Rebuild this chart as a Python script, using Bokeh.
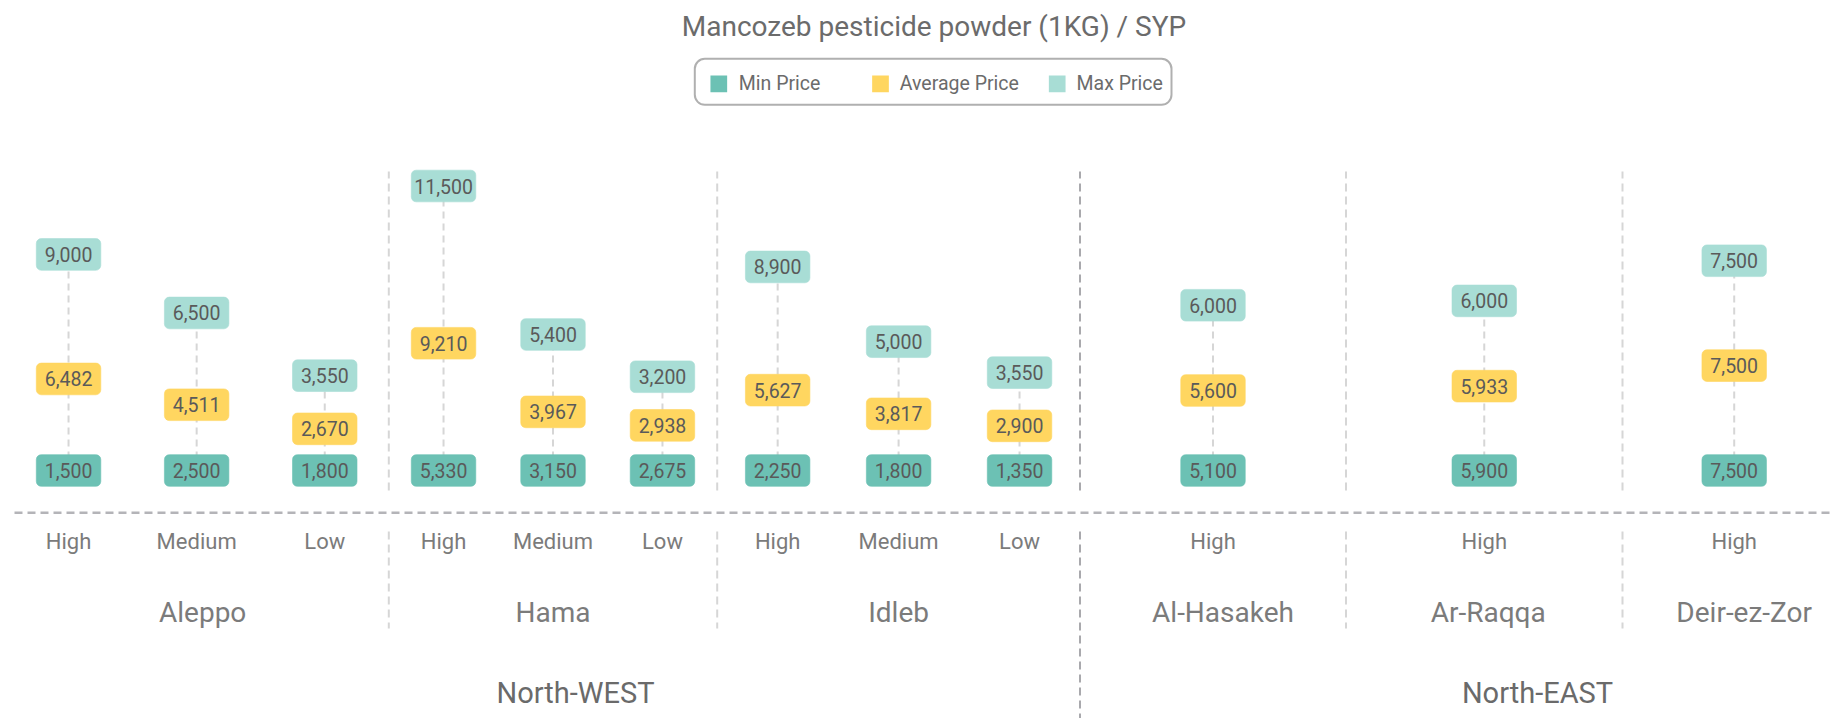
import numpy as np
from bokeh.plotting import figure
from bokeh.models import Range1d, ColumnDataSource
from bokeh.embed import file_html
from bokeh.resources import INLINE
from bokeh.core.properties import value

# ---------------- data ----------------
title_text = "Mancozeb pesticide powder (1KG) / SYP"
series_names = ["Min Price", "Average Price", "Max Price"]
regions = ["North-WEST", "North-EAST"]
cities = ["Aleppo", "Hama", "Idleb", "Al-Hasakeh", "Ar-Raqqa", "Deir-ez-Zor"]
city_region = ["North-WEST", "North-WEST", "North-WEST", "North-EAST", "North-EAST", "North-EAST"]
levels = ["High", "Medium", "Low", "High", "Medium", "Low", "High", "Medium", "Low", "High", "High", "High"]
level_city = ["Aleppo"] * 3 + ["Hama"] * 3 + ["Idleb"] * 3 + ["Al-Hasakeh", "Ar-Raqqa", "Deir-ez-Zor"]
min_price = [1500, 2500, 1800, 5330, 3150, 2675, 2250, 1800, 1350, 5100, 5900, 7500]
avg_price = [6482, 4511, 2670, 9210, 3967, 2938, 5627, 3817, 2900, 5600, 5933, 7500]
max_price = [9000, 6500, 3550, 11500, 5400, 3200, 8900, 5000, 3550, 6000, 6000, 7500]

# ---------------- layout / style ----------------
W, H = 1832, 718
FONT = value("Roboto")
C_MIN, C_AVG, C_MAX = "#6cc1b4", "#ffd660", "#a8ddd5"
series_colors = [C_MIN, C_AVG, C_MAX]
city_widths = [384.3, 328.4, 362.8, 266.0, 276.5, 223.4]
city_label_dx = [6, 0, 0, 10, 4, 10]
X0 = 4.0
PX_PER_UNIT = 0.01309      # vertical pixels per SYP
BASE_Y = 248.0             # screen y (from bottom) of the baseline row
GAP = 6.7 / PX_PER_UNIT    # spacing between stacked label rows (in SYP)
region_label_x = {"North-WEST": 575.0, "North-EAST": 1537.0}

bounds = np.concatenate([[X0], X0 + np.cumsum(city_widths)])
col_x = []
for i, c in enumerate(cities):
    n = level_city.count(c)
    slot = city_widths[i] / n
    for j in range(n):
        col_x.append(bounds[i] + (j + 0.5) * slot)
col_x = np.array(col_x)

mn = np.array(min_price, dtype=float)
av = np.array(avg_price, dtype=float)
mx = np.array(max_price, dtype=float)
y_min = np.zeros_like(mn)
y_avg = av + GAP
y_max = av + mx + 2 * GAP

def fmt(v):
    return f"{int(v):,}"

p = figure(width=W, height=H, x_range=Range1d(0, W), y_range=Range1d(0, H),
           x_axis_type=None, y_axis_type=None, output_backend="svg",
           toolbar_location=None, min_border=0, outline_line_color=None,
           background_fill_color="white", border_fill_color="white")
p.extra_y_ranges = {"price": Range1d(-BASE_Y / PX_PER_UNIT, (H - BASE_Y) / PX_PER_UNIT)}
p.xgrid.visible = False
p.ygrid.visible = False

# ---- separators between cities ----
for i in range(1, len(cities)):
    bx = bounds[i]
    major = city_region[i - 1] != city_region[i]
    col = "#a9a9ad" if major else "#d6d6d6"
    p.segment(x0=[bx], y0=[228], x1=[bx], y1=[547], line_color=col, line_width=2, line_dash="8 5")
    p.segment(x0=[bx], y0=[187], x1=[bx], y1=[-5 if major else 90], line_color=col,
              line_width=2, line_dash="8 5")

# ---- axis line ----
p.segment(x0=[14], y0=[205.7], x1=[W], y1=[205.7], line_color="#b4b4b8", line_width=2.5, line_dash="8 5")

# ---- connectors ----
src = ColumnDataSource(dict(x=col_x, ymin=y_min, yavg=y_avg, ymax=y_max,
                            tmin=[fmt(v) for v in mn], tavg=[fmt(v) for v in av],
                            tmax=[fmt(v) for v in mx]))
p.segment(x0="x", y0="ymin", x1="x", y1="ymax", source=src, y_range_name="price",
          line_color="#d6d6d6", line_width=2, line_dash="7 5")

# ---- value boxes ----
for ycol, tcol, colr in [("ymin", "tmin", C_MIN), ("yavg", "tavg", C_AVG), ("ymax", "tmax", C_MAX)]:
    p.rect(x="x", y=ycol, width=64.5, height=31.7, width_units="screen", height_units="screen",
           source=src, y_range_name="price", fill_color=colr, line_color=colr, line_alpha=0.6,
           border_radius=5)
    p.text(x="x", y=ycol, text=tcol, source=src, y_range_name="price", text_align="center",
           text_baseline="middle", text_font=FONT, text_font_size="19.5px", text_color="#5a5a5a")

# ---- category labels ----
p.text(x=col_x, y=[176.7] * len(col_x), text=levels, text_align="center", text_baseline="middle",
       text_font=FONT, text_font_size="22px", text_color="#7b7b7b")
city_cx = (bounds[:-1] + bounds[1:]) / 2 + np.array(city_label_dx)
p.text(x=city_cx, y=[106.3] * len(cities), text=cities, text_align="center", text_baseline="middle",
       text_font=FONT, text_font_size="28px", text_color="#7b7b7b")
p.text(x=[region_label_x[r] for r in regions], y=[25.5] * len(regions), text=regions, text_align="center",
       text_baseline="middle", text_font=FONT, text_font_size="29px", text_color="#6a6a6a")

# ---- title ----
p.text(x=[933.5], y=[691.7], text=[title_text], text_align="center", text_baseline="middle",
       text_font=FONT, text_font_size="28px", text_color="#6b6b6b")

# ---- legend ----
p.rect(x=[932.65], y=[636.7], width=[476.7], height=[46], fill_color="white",
       line_color="#b0b0b0", line_width=2, border_radius=10)
leg_sq_x = [718.3, 880.0, 1056.7]
leg_tx_x = [738.3, 899.3, 1076.0]
p.rect(x=leg_sq_x, y=[634.7] * 3, width=[16.7] * 3, height=[16.7] * 3,
       fill_color=series_colors, line_color=None)
p.text(x=leg_tx_x, y=[635.0] * 3, text=series_names, text_align="left", text_baseline="middle",
       text_font=FONT, text_font_size="19.5px", text_color="#6b6b6b")

open("out.html", "w").write(file_html(p, INLINE))
